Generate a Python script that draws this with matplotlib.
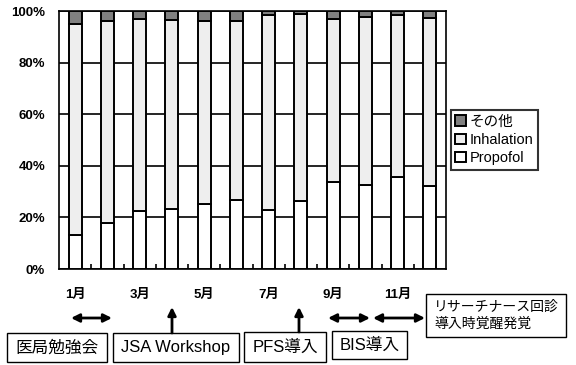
import numpy as np
import matplotlib
matplotlib.use("Agg")
import matplotlib.pyplot as plt
from matplotlib.patches import Rectangle, FancyArrowPatch

# ─── Data ────────────────────────────────────────────────────────────────────
months = ["1月", "2月", "3月", "4月", "5月", "6月",
          "7月", "8月", "9月", "10月", "11月", "12月"]
month_labels = ["1月", "", "3月", "", "5月", "", "7月", "", "9月", "", "11月", ""]
propofol = [13.3, 17.8, 22.3, 23.4, 25.2, 26.6, 23.0, 26.2, 33.9, 32.6, 35.5, 32.0]
inhalation = [81.5, 78.3, 74.6, 73.0, 70.9, 69.5, 75.5, 72.6, 63.0, 65.2, 63.0, 65.2]
other = [5.2, 3.9, 3.1, 3.6, 3.9, 3.9, 1.5, 1.2, 3.1, 2.2, 1.5, 2.8]
yticks = [0, 20, 40, 60, 80, 100]

# event boxes: text, (left, top, right, bottom) in pixels, fontsize
events = [
    ("医局勉強会", (7, 333, 107, 362), 12),
    ("JSA Workshop", (113, 333, 239, 362), 12),
    ("PFS導入", (244, 332, 326, 362), 12),
    ("BIS導入", (332, 331, 407, 359), 12),
]
note_text = "リサーチナース回診\n導入時覚醒発覚"
note_box = (426, 294, 566, 337)

# arrows in pixels: (x0, y0, x1, y1, style)
arrows = [
    (71, 318, 112, 318, "<|-|>"),
    (328, 318, 370, 318, "<|-|>"),
    (373, 318, 425, 318, "<|-|>"),
    (172, 333, 172, 307, "-|>"),
    (299, 332, 299, 307, "-|>"),
]

# ─── Style ───────────────────────────────────────────────────────────────────
FONT = ["Liberation Sans", "Noto Sans CJK JP", "DejaVu Sans"]
plt.rcParams["font.family"] = FONT
W, H = 576, 365

fig = plt.figure(figsize=(W / 100, H / 100), dpi=100)
ax = fig.add_axes([59 / W, 1 - 269 / H, (446 - 59) / W, (269 - 11) / H])

x = np.arange(len(months))
bw = 0.4
bottom2 = np.array(propofol)
bottom3 = bottom2 + np.array(inhalation)
ax.bar(x, propofol, bw, color="white", edgecolor="black", lw=1.4,
       label="Propofol", zorder=3)
ax.bar(x, inhalation, bw, bottom=bottom2, color="#eeeeee", edgecolor="black",
       lw=1.4, label="Inhalation", zorder=3)
ax.bar(x, other, bw, bottom=bottom3, color="#808080", edgecolor="black",
       lw=1.4, label="その他", zorder=3)

ax.set_xlim(-0.5, len(months) - 0.5)
ax.set_ylim(0, 100)
ax.set_yticks(yticks)
ax.set_yticklabels([f"{v}%" for v in yticks], fontsize=9.5, fontweight="bold")
ax.tick_params(axis="y", length=0, pad=10)
ax.set_xticks(x)
ax.set_xticklabels(month_labels, fontsize=9.5, fontweight="bold")
ax.tick_params(axis="x", which="major", length=0, pad=14)
ax.set_xticks(np.arange(0.5, len(months) - 1, 1), minor=True)
ax.tick_params(axis="x", which="minor", direction="in", length=3.5, width=1.2)
ax.yaxis.grid(True, color="black", lw=1.2)
ax.set_axisbelow(True)
for s in ax.spines.values():
    s.set_linewidth(1.2)

handles, labels = ax.get_legend_handles_labels()
leg = fig.legend(handles[::-1], labels[::-1], loc="center left",
                 bbox_to_anchor=(451 / W, 1 - 140 / H), fontsize=10.5,
                 frameon=True, fancybox=False, handlelength=0.7,
                 handleheight=0.7, handletextpad=0.3, labelspacing=0.3,
                 borderpad=0.3, borderaxespad=0)
leg.get_frame().set_edgecolor("black")
leg.get_frame().set_linewidth(1.5)


def fx(px):
    return px / W


def fy(py):
    return 1 - py / H


def box(l, t, r, b):
    fig.patches.append(Rectangle((fx(l), fy(b)), fx(r) - fx(l), fy(t) - fy(b),
                                 transform=fig.transFigure, fill=False,
                                 edgecolor="black", lw=1.0))


# event boxes
for text, (l, t, r, b), fs in events:
    box(l, t, r, b)
    fig.text(fx((l + r) / 2), fy((t + b) / 2), text, fontsize=fs,
             ha="center", va="center")

l, t, r, b = note_box
box(l, t, r, b)
fig.text(fx(434), fy((t + b) / 2), note_text, fontsize=10, ha="left",
         va="center", linespacing=1.3)

for x0, y0, x1, y1, style in arrows:
    fig.add_artist(FancyArrowPatch(
        (fx(x0), fy(y0)), (fx(x1), fy(y1)), transform=fig.transFigure,
        arrowstyle=style, mutation_scale=12, lw=2, color="black",
        shrinkA=0, shrinkB=0))

fig.savefig("out.png", dpi=100)
